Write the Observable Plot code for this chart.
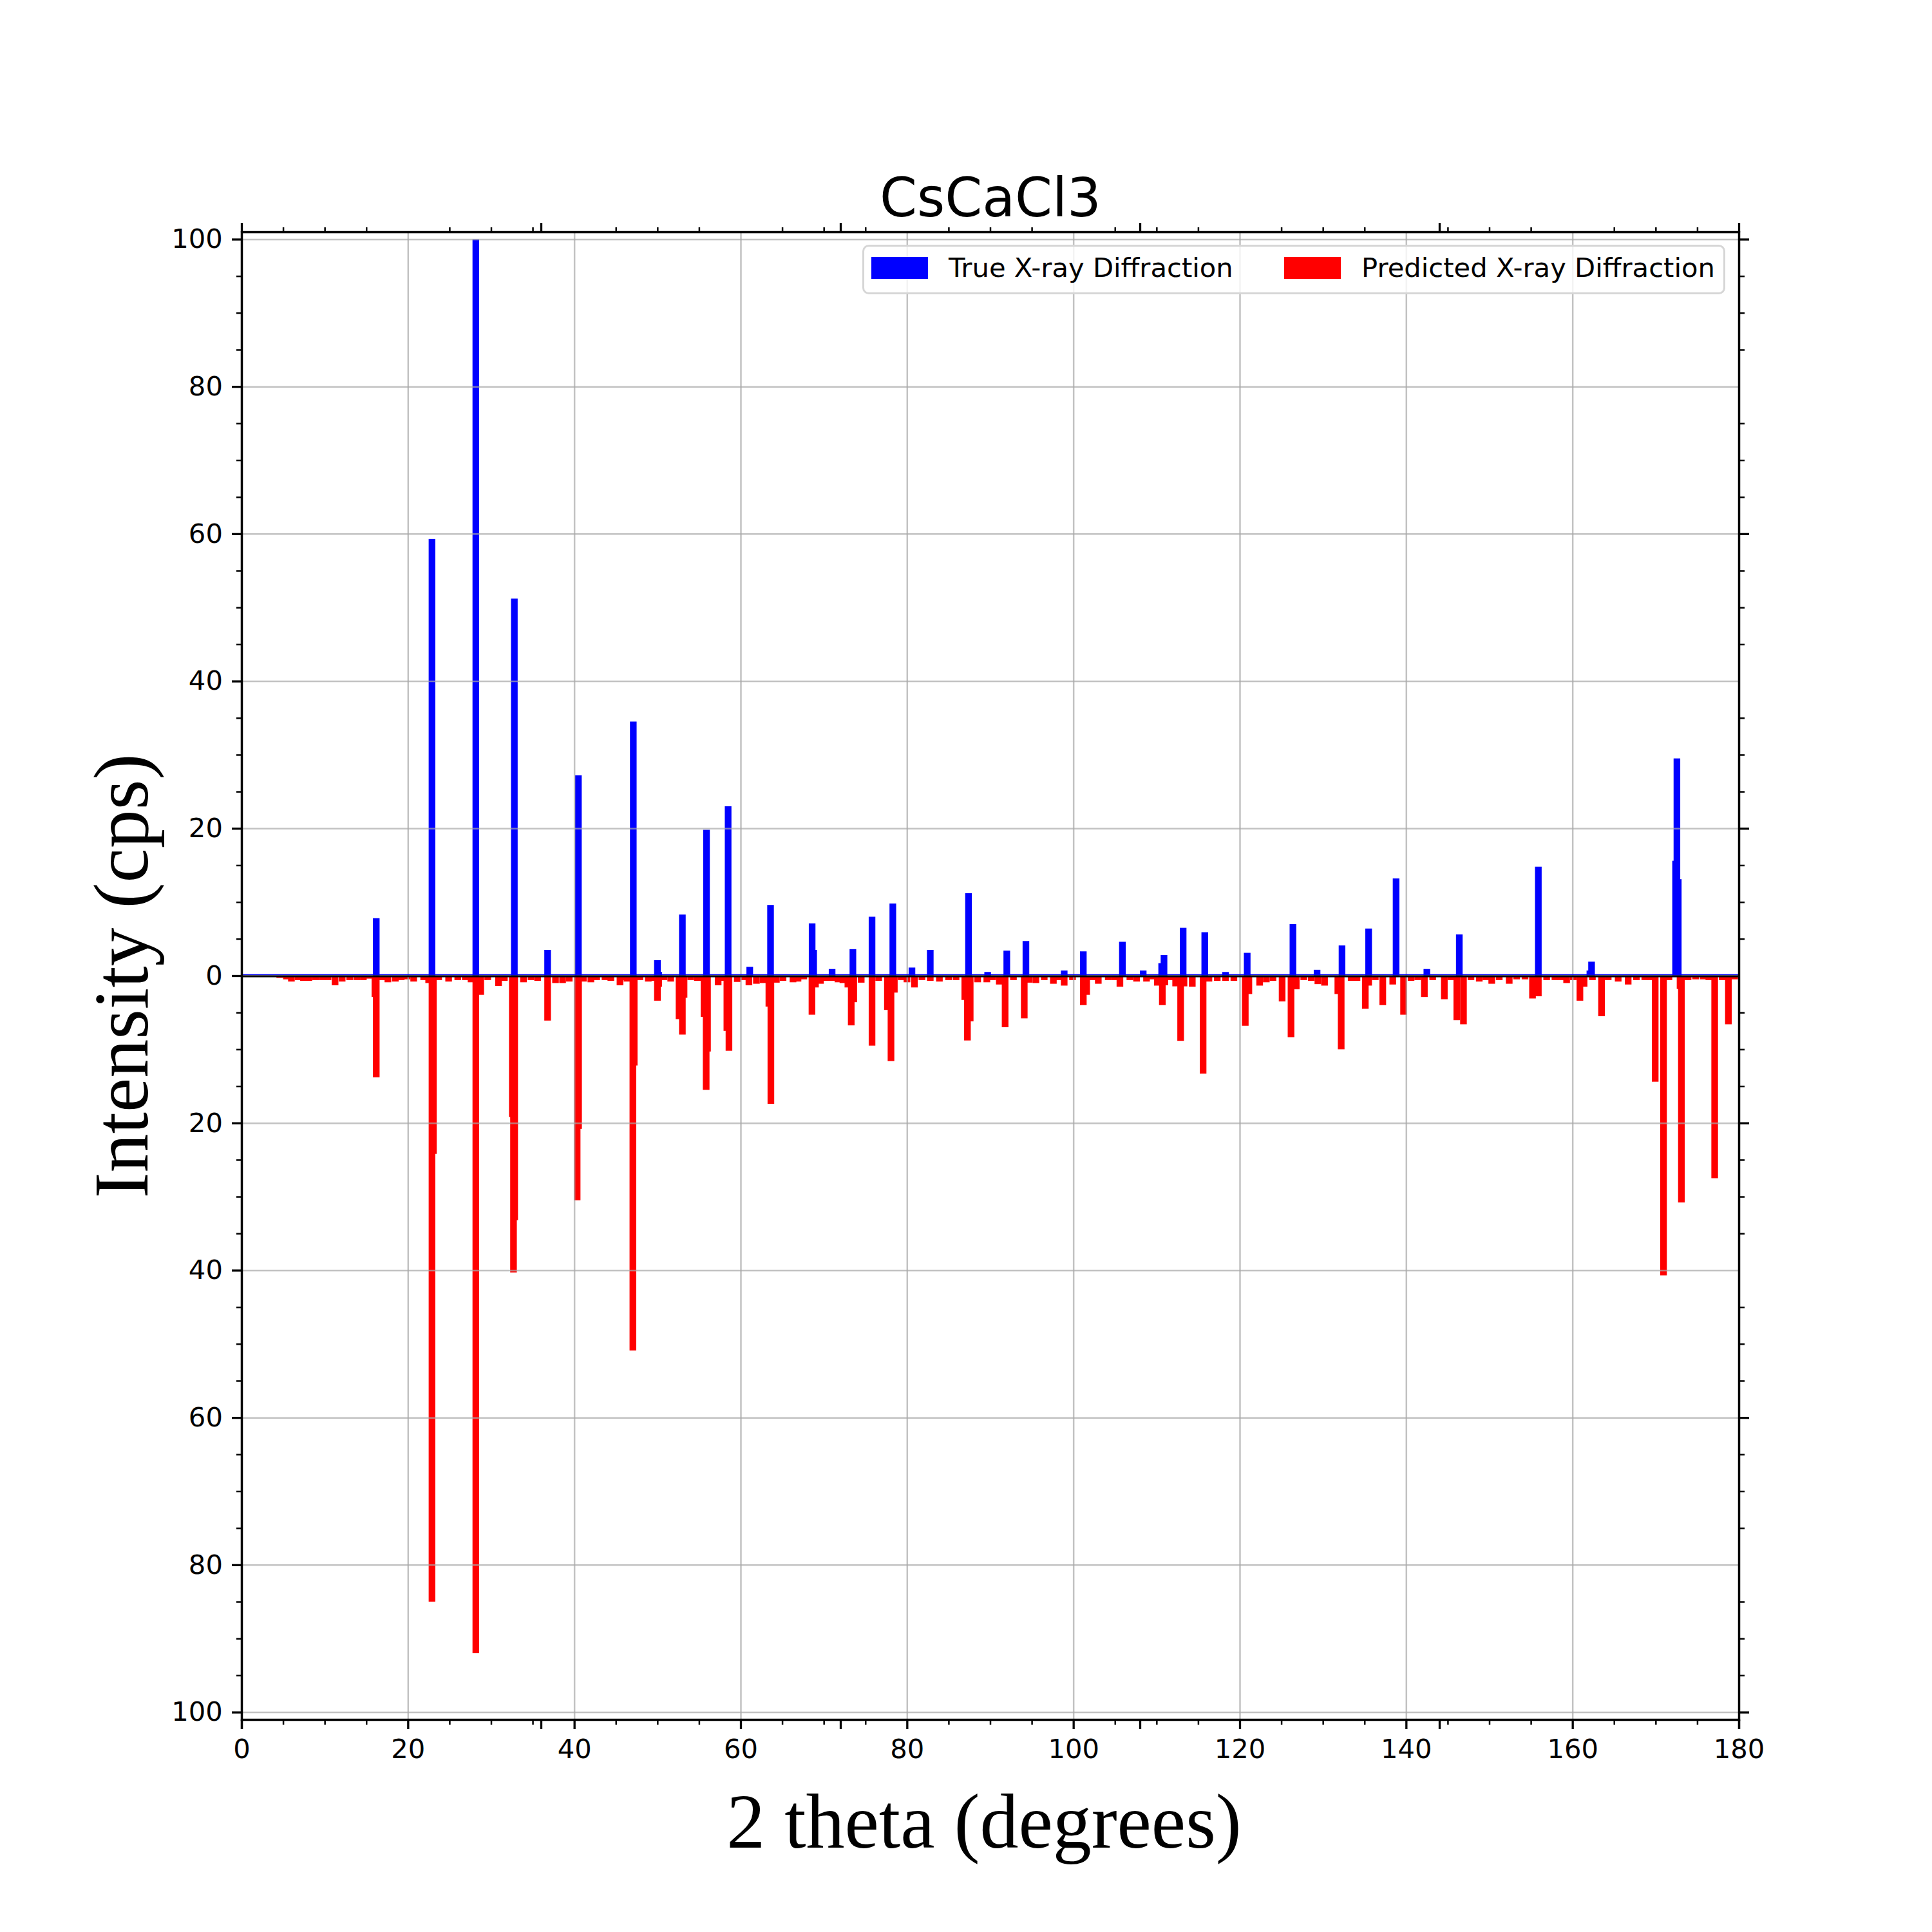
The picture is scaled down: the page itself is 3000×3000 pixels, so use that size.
<!DOCTYPE html>
<html>
<head>
<meta charset="utf-8">
<script src="https://cdn.jsdelivr.net/npm/d3@7"></script>
<script src="https://cdn.jsdelivr.net/npm/@observablehq/plot@0.6"></script>
<style>
  html, body { margin: 0; padding: 0; background: #ffffff; }
  #wrap { position: relative; width: 3000px; height: 3000px; }
  #legend { position: absolute; left: 1339px; top: 380px; width: 1334px; height: 71px;
    border: 3px solid #d6d6d6; border-radius: 10px; background: rgba(255,255,255,0.8);
    font-family: "DejaVu Sans", sans-serif; font-size: 41.7px; color: #000; }
  #legend .sw { position: absolute; top: 16px; width: 88px; height: 34px; }
  #legend .lb { position: absolute; top: 12px; line-height: 41.7px; white-space: nowrap; }
</style>
</head>
<body>
<div id="wrap"></div>
<script>
// ---- data ----
const chartTitle = "CsCaCl3";
const xLabel = "2 theta (degrees)";
const yLabel = "Intensity (cps)";
const seriesNames = ["True X-ray Diffraction", "Predicted X-ray Diffraction"];
const seriesColors = ["blue", "red"];

const trueX = [16.2, 22.9, 28.17, 32.8, 36.8, 40.5, 47.1, 50.0, 50.16, 53.0, 55.9, 58.5, 61.1, 63.6, 68.6, 68.78, 71.0, 73.5, 75.8, 78.3, 80.6, 82.8, 87.4, 89.7, 92.0, 94.3, 98.9, 101.2, 105.9, 108.4, 110.62, 110.9, 113.2, 115.8, 118.3, 120.9, 126.4, 129.3, 132.3, 135.5, 138.8, 142.5, 146.4, 155.9, 162.1, 162.3, 172.4, 172.56, 172.72];
const trueI = [7.8, 59.3, 100, 51.2, 3.5, 27.2, 34.5, 2.1, 0.5, 8.3, 19.8, 23.0, 1.2, 9.6, 7.1, 3.5, 0.9, 3.6, 8.0, 9.8, 1.1, 3.5, 11.2, 0.5, 3.4, 4.7, 0.7, 3.3, 4.6, 0.7, 1.7, 2.8, 6.5, 5.9, 0.5, 3.1, 7.0, 0.8, 4.1, 6.4, 13.2, 0.9, 5.6, 14.8, 0.7, 1.9, 15.6, 29.5, 13.1];

const predX = [4.6, 5.4, 6.0, 6.8, 7.45, 8.1, 8.9, 9.7, 10.4, 11.25, 12.1, 13.0, 13.85, 14.65, 15.35, 16.04, 16.2, 16.95, 17.6, 18.5, 19.2, 19.9, 20.7, 21.9, 22.5, 22.9, 23.07, 23.7, 24.9, 26.0, 26.9, 27.6, 28.17, 28.76, 29.6, 30.9, 31.6, 32.56, 32.7, 32.84, 33.9, 34.8, 35.6, 36.8, 37.75, 38.6, 39.4, 40.35, 40.52, 41.1, 42.0, 42.7, 43.7, 44.4, 45.5, 46.1, 46.35, 47.05, 47.21, 47.9, 48.9, 49.4, 50.0, 50.16, 50.8, 51.6, 52.6, 53.0, 53.2, 54.0, 54.8, 55.6, 55.86, 56.02, 57.3, 57.8, 58.35, 58.6, 59.6, 60.3, 61.0, 61.9, 62.7, 63.4, 63.64, 64.3, 65.1, 66.3, 66.9, 67.6, 68.58, 69.0, 69.6, 70.3, 71.0, 71.7, 72.3, 72.9, 73.3, 73.6, 74.5, 75.8, 76.6, 77.65, 78.08, 78.48, 79.3, 80.0, 80.9, 81.8, 82.8, 83.9, 85.0, 85.9, 86.95, 87.27, 87.6, 88.5, 89.6, 90.3, 91.1, 91.8, 92.8, 94.1, 94.7, 95.5, 96.5, 97.6, 98.3, 98.9, 99.9, 101.2, 101.6, 102.3, 103.0, 104.2, 105.0, 105.6, 106.8, 107.6, 108.8, 109.5, 110.1, 110.7, 111.0, 111.7, 112.3, 112.9, 113.3, 114.3, 115.6, 116.3, 117.3, 118.3, 119.3, 120.67, 121.1, 122.4, 123.2, 124.0, 125.1, 126.17, 126.8, 127.7, 128.6, 129.4, 130.2, 131.8, 132.2, 133.4, 134.1, 135.1, 135.5, 136.3, 137.2, 138.4, 139.7, 140.6, 141.4, 142.2, 143.2, 144.6, 145.4, 146.1, 146.9, 147.8, 148.8, 149.6, 150.3, 151.2, 152.4, 153.3, 154.3, 155.2, 155.9, 156.9, 157.9, 158.6, 159.3, 160.1, 160.9, 161.4, 162.4, 163.5, 164.3, 165.5, 166.7, 167.7, 168.7, 169.4, 169.95, 170.95, 171.6, 172.94, 173.1, 173.9, 174.8, 175.7, 176.4, 177.1, 178.0, 178.75, 179.5];
const predI = [0.3, 0.5, 0.8, 0.6, 0.7, 0.7, 0.6, 0.6, 0.6, 1.3, 0.8, 0.6, 0.6, 0.6, 0.4, 2.9, 13.8, 0.6, 0.9, 0.8, 0.6, 0.5, 0.8, 0.6, 1.0, 85.0, 24.2, 0.6, 0.8, 0.6, 0.6, 0.9, 92.0, 2.6, 0.6, 1.4, 0.7, 19.2, 40.3, 33.2, 0.9, 0.6, 0.7, 6.1, 1.0, 1.0, 0.8, 30.5, 20.8, 0.8, 0.9, 0.6, 0.6, 0.7, 1.3, 0.6, 0.8, 50.9, 12.2, 0.6, 0.8, 0.7, 3.4, 1.5, 0.6, 0.8, 5.9, 8.0, 3.0, 0.6, 0.7, 5.6, 15.5, 10.3, 1.3, 0.7, 7.5, 10.2, 0.85, 0.6, 1.3, 1.1, 1.0, 4.2, 17.4, 0.95, 0.7, 0.9, 0.8, 0.5, 5.3, 1.6, 1.1, 0.7, 0.7, 0.9, 1.0, 1.6, 6.75, 3.6, 0.95, 9.5, 0.7, 4.65, 11.6, 2.3, 0.6, 0.9, 1.6, 0.6, 0.7, 0.8, 0.6, 0.6, 3.3, 8.8, 6.2, 0.9, 0.9, 0.6, 1.2, 7.0, 0.6, 5.8, 0.95, 1.0, 0.6, 1.1, 0.6, 1.35, 0.6, 4.0, 2.6, 0.6, 1.1, 0.6, 0.6, 1.5, 0.6, 0.8, 0.8, 0.5, 1.35, 4.0, 1.3, 0.6, 1.45, 8.85, 1.45, 1.5, 13.3, 0.8, 0.7, 0.7, 0.7, 6.8, 2.5, 1.35, 0.9, 0.7, 3.5, 8.35, 1.85, 0.6, 0.7, 1.15, 1.35, 2.5, 10.0, 0.7, 0.7, 4.5, 1.35, 0.6, 4.0, 1.2, 5.3, 0.7, 0.6, 2.9, 0.6, 3.2, 0.6, 6.05, 6.6, 0.6, 0.8, 0.6, 1.1, 0.6, 1.1, 0.5, 0.5, 3.1, 2.8, 0.6, 0.6, 0.6, 1.0, 0.6, 3.4, 1.5, 0.6, 5.5, 0.6, 0.8, 1.2, 0.6, 0.6, 0.6, 14.4, 40.7, 0.6, 1.8, 30.8, 0.6, 0.5, 0.5, 0.6, 27.5, 0.6, 6.6, 0.5];

const xMajorTicks = [0, 20, 40, 60, 80, 100, 120, 140, 160, 180];
const xMinorTicks = d3.range(0, 181, 5).filter(v => v % 20 !== 0);
const xTwinTicks = [0, 36, 72, 108, 144, 180];
const yMajorTicks = [-100, -80, -60, -40, -20, 0, 20, 40, 60, 80, 100];
const yMinorTicks = d3.range(-100, 101, 5).filter(v => v % 20 !== 0);
const yTwinTicks = [-100, -60, -20, 20, 60, 100];
const barWidth = 0.8;

// ---- build ----
const trueData = trueX.map((x, i) => ({x, v: trueI[i]}));
const predData = predX.map((x, i) => ({x, v: -predI[i]}));
const blank = () => "";
const gridStyle = {stroke: "#a8a8a8", strokeOpacity: 0.7, strokeWidth: 2.5};

const chart = Plot.plot({
  width: 3000,
  height: 3000,
  marginLeft: 375,
  marginRight: 300,
  marginTop: 360,
  marginBottom: 330,
  style: {fontFamily: "DejaVu Sans", fontSize: "41.7px", color: "black", background: "white", overflow: "visible"},
  x: {domain: [0, 180], label: null},
  y: {domain: [-101, 101], label: null},
  marks: [
    Plot.rect(predData, {x1: d => d.x - barWidth / 2, x2: d => d.x + barWidth / 2, y1: 0, y2: "v", fill: seriesColors[1]}),
    Plot.rect(trueData, {x1: d => d.x - barWidth / 2, x2: d => d.x + barWidth / 2, y1: 0, y2: "v", fill: seriesColors[0]}),
    Plot.gridX(xMajorTicks, gridStyle),
    Plot.gridY(yMajorTicks, gridStyle),
    Plot.ruleY([0], {stroke: "blue", strokeWidth: 1.6, dy: -2}),
    Plot.ruleY([0], {stroke: "black", strokeWidth: 3, dy: 0.5}),
    Plot.frame({stroke: "black", strokeWidth: 3.5}),
    // bottom
    Plot.axisX(xMajorTicks, {anchor: "bottom", tickSize: 15, tickPadding: 14.6, strokeWidth: 3.3, tickFormat: d => d, label: null}),
    Plot.axisX(xMinorTicks, {anchor: "bottom", tickSize: 8, strokeWidth: 2.5, tickFormat: blank, label: null}),
    Plot.axisX(xTwinTicks, {anchor: "bottom", tickSize: 15, strokeWidth: 3.3, tickFormat: blank, label: null}),
    // top
    Plot.axisX(xMinorTicks, {anchor: "top", tickSize: 8, strokeWidth: 2.5, tickFormat: blank, label: null}),
    Plot.axisX(xTwinTicks, {anchor: "top", tickSize: 15, strokeWidth: 3.3, tickFormat: blank, label: null}),
    // left
    Plot.axisY(yMajorTicks, {anchor: "left", tickSize: 15, tickPadding: 14.6, strokeWidth: 3.3, tickFormat: d => Math.abs(d), label: null}),
    Plot.axisY(yMinorTicks, {anchor: "left", tickSize: 8, strokeWidth: 2.5, tickFormat: blank, label: null}),
    // right
    Plot.axisY(yMinorTicks, {anchor: "right", tickSize: 8, strokeWidth: 2.5, tickFormat: blank, label: null}),
    Plot.axisY(yTwinTicks, {anchor: "right", tickSize: 15, strokeWidth: 3.3, tickFormat: blank, label: null}),
    // texts
    Plot.text([chartTitle], {text: d => d, frameAnchor: "top", dy: -25, lineAnchor: "bottom", fontSize: 83, fill: "black"}),
    Plot.text([xLabel], {text: d => d, frameAnchor: "bottom", dx: -10, dy: 198, lineAnchor: "bottom", fontSize: 120, fontFamily: "Liberation Serif", fill: "black"}),
    Plot.text([yLabel], {text: d => d, frameAnchor: "left", dx: -147, rotate: -90, lineAnchor: "bottom", textAnchor: "middle", fontSize: 120, fontFamily: "Liberation Serif", fill: "black"})
  ]
});

const wrap = document.getElementById("wrap");
wrap.appendChild(chart);

// legend overlay (inside the axes, upper right)
const legend = document.createElement("div");
legend.id = "legend";
const items = [
  {name: seriesNames[0], color: seriesColors[0], sw: 11, lb: 131},
  {name: seriesNames[1], color: seriesColors[1], sw: 652, lb: 772}
];
for (const it of items) {
  const s = document.createElement("div");
  s.className = "sw";
  s.style.left = it.sw + "px";
  s.style.background = it.color;
  legend.appendChild(s);
  const t = document.createElement("div");
  t.className = "lb";
  t.style.left = it.lb + "px";
  t.textContent = it.name;
  legend.appendChild(t);
}
wrap.appendChild(legend);
</script>
</body>
</html>
